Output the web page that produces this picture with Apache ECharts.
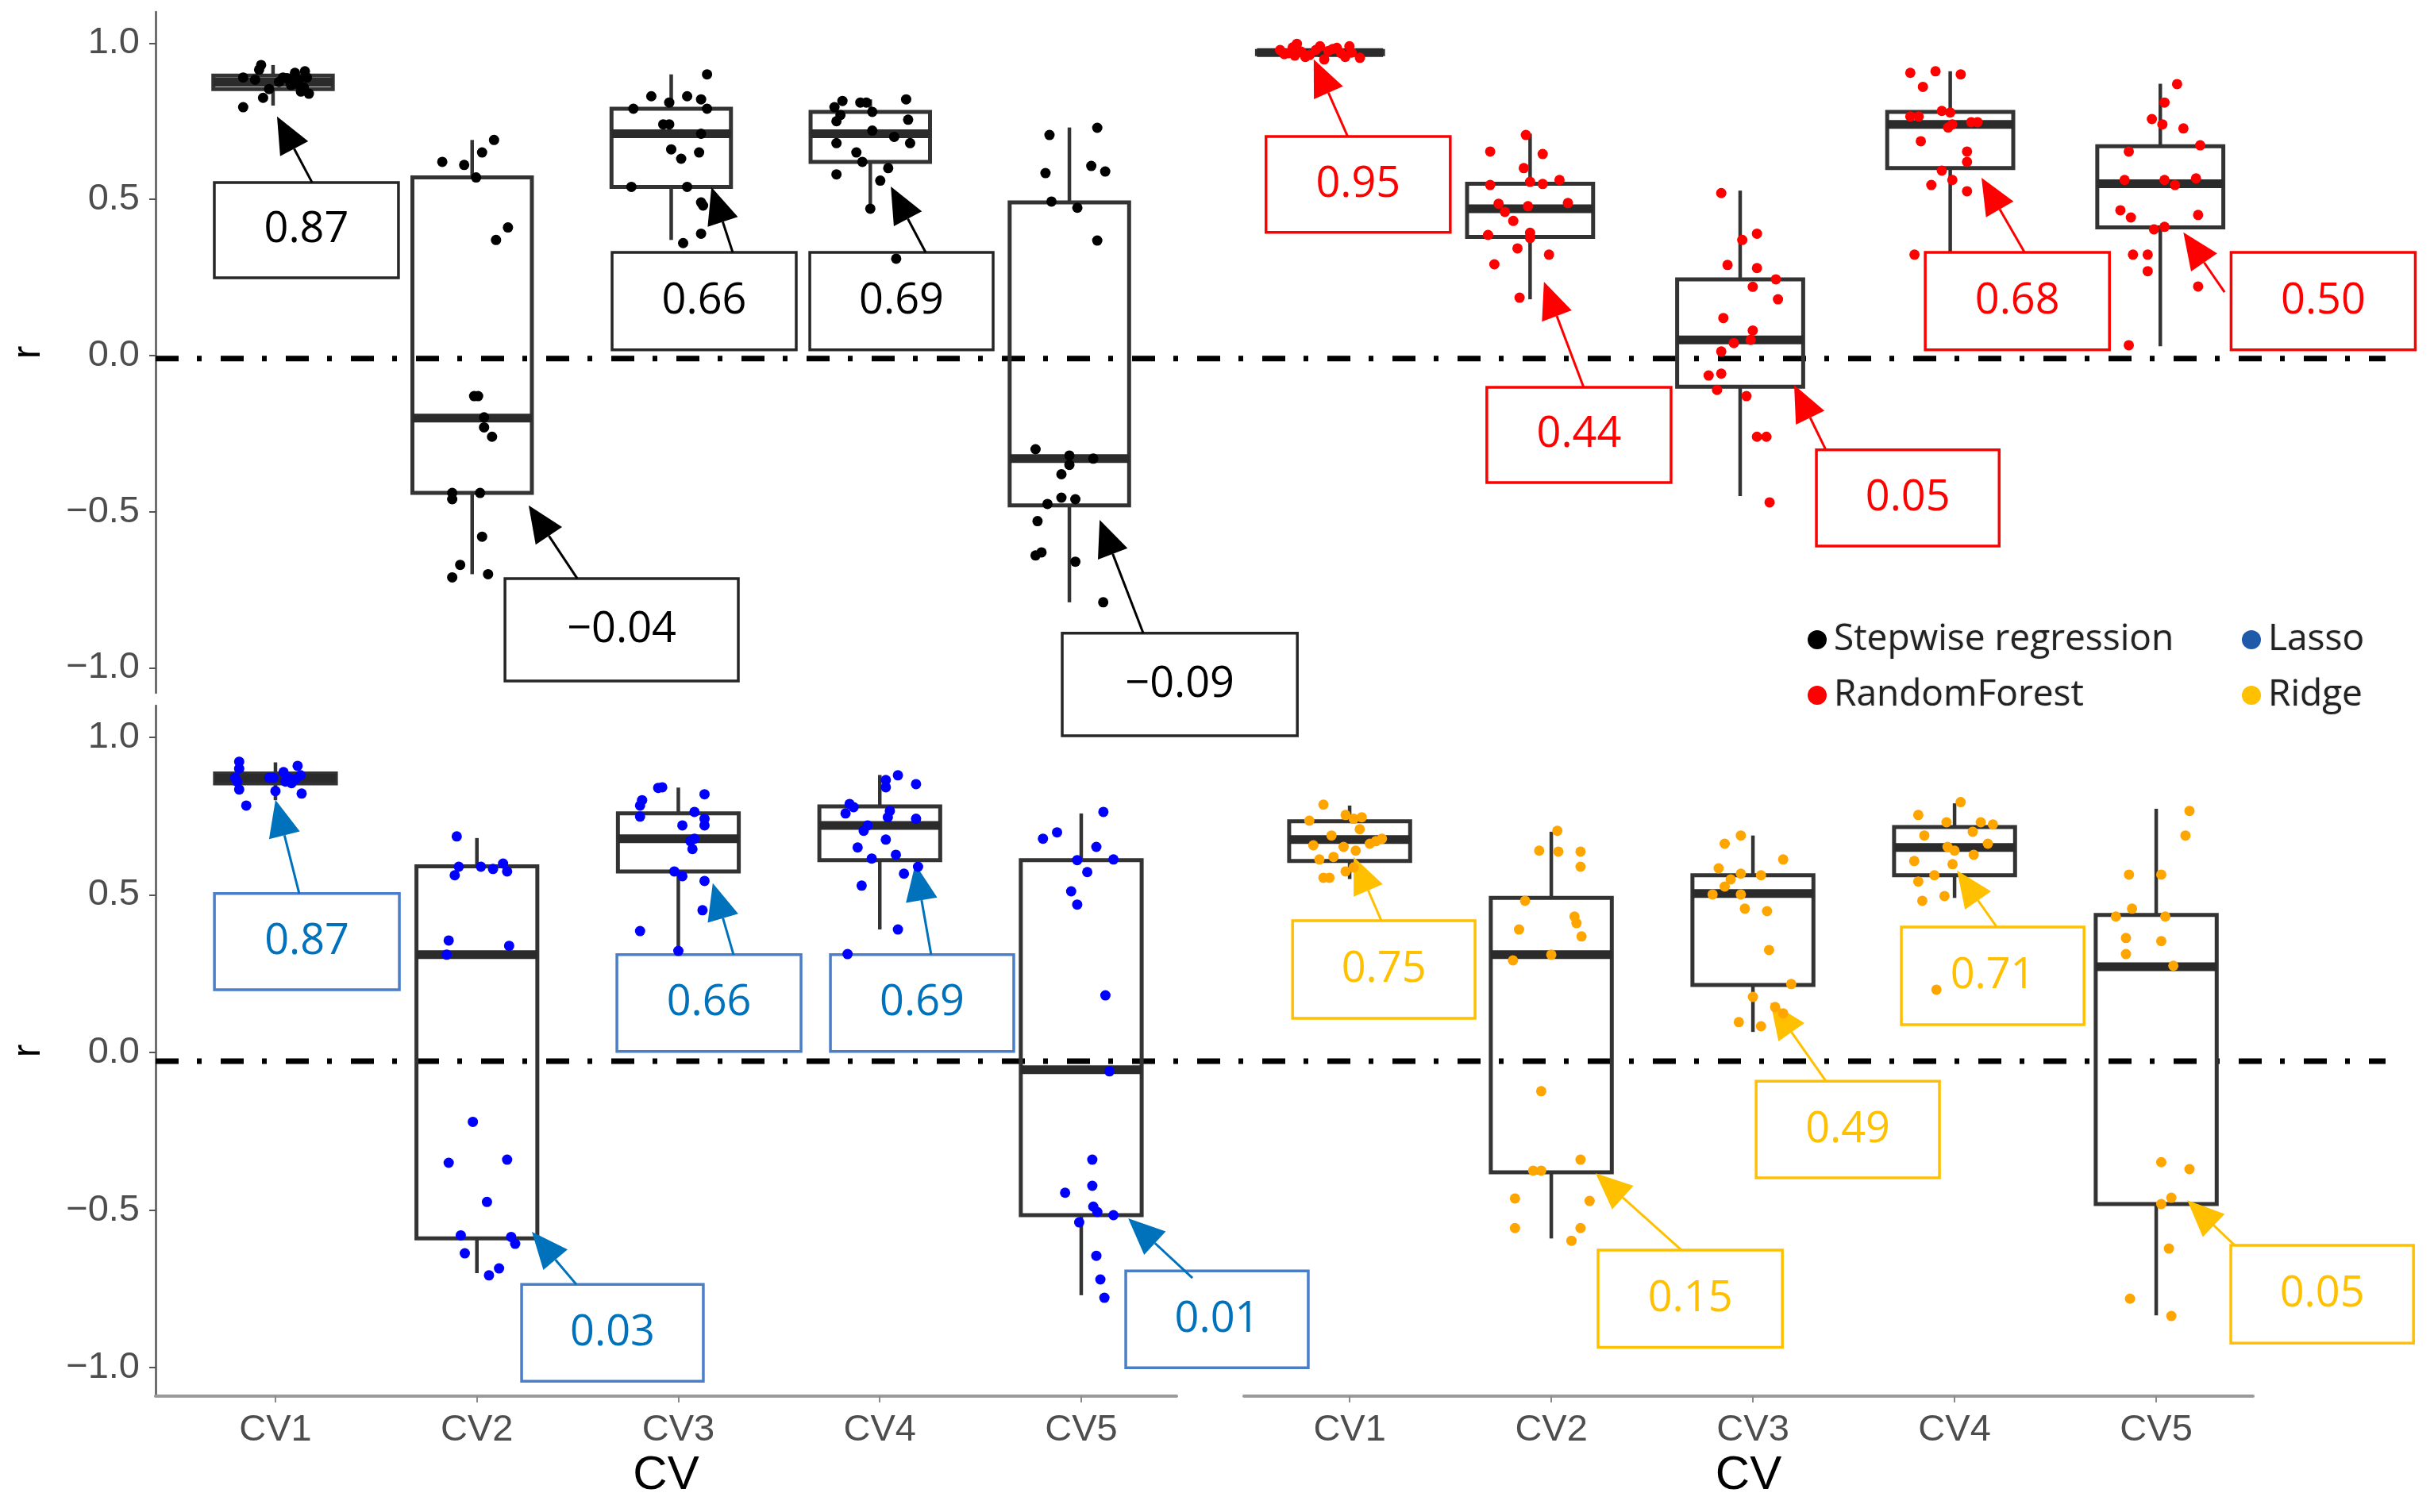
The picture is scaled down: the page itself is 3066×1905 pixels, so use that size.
<!DOCTYPE html>
<html>
<head>
<meta charset="utf-8">
<script src="https://cdn.jsdelivr.net/npm/echarts@6/dist/echarts.min.js"></script>
<style>html,body{margin:0;padding:0;background:#fff}#c{width:3066px;height:1905px}</style>
</head>
<body>
<div id="c"></div>
<script>
// ---------------- DATA ----------------
const categories = ['CV1', 'CV2', 'CV3', 'CV4', 'CV5'];
const yTicks = [-1, -0.5, 0, 0.5, 1];
const refLineY = [-0.01, -0.028];   // dash-dot reference line (top panels, bottom panels)

// box statistics per CV: [min, Q1, median, Q3, max]
const stepwiseBox = [
  [0.80, 0.853, 0.875, 0.896, 0.93],
  [-0.70, -0.44, -0.20, 0.57, 0.69],
  [0.37, 0.54, 0.71, 0.79, 0.90],
  [0.47, 0.62, 0.71, 0.78, 0.82],
  [-0.79, -0.48, -0.33, 0.49, 0.73]
];
const rfBox = [
  [0.955, 0.965, 0.97, 0.975, 0.985],
  [0.18, 0.38, 0.47, 0.55, 0.71],
  [-0.45, -0.10, 0.05, 0.244, 0.528],
  [0.33, 0.60, 0.74, 0.78, 0.91],
  [0.03, 0.41, 0.55, 0.67, 0.87]
];
const lassoBox = [
  [0.80, 0.853, 0.87, 0.885, 0.92],
  [-0.70, -0.59, 0.31, 0.59, 0.68],
  [0.32, 0.574, 0.678, 0.758, 0.84],
  [0.39, 0.61, 0.72, 0.78, 0.88],
  [-0.77, -0.516, -0.055, 0.61, 0.758]
];
const ridgeBox = [
  [0.55, 0.607, 0.675, 0.733, 0.783],
  [-0.59, -0.38, 0.31, 0.49, 0.70],
  [0.065, 0.214, 0.504, 0.562, 0.688],
  [0.49, 0.562, 0.65, 0.715, 0.79],
  [-0.834, -0.481, 0.272, 0.436, 0.773]
];

// jittered points per CV: [horizontal jitter (category units), r]
const stepwisePts = [
  [[-0.15,0.89],[-0.06,0.93],[-0.07,0.915],[-0.05,0.825],[-0.15,0.795],[-0.02,0.853],[0.03,0.876],[0.05,0.89],[0.08,0.883],[0.11,0.905],[0.13,0.883],[0.155,0.858],[0.17,0.89],[0.18,0.838],[0.16,0.91],[0.09,0.866],[0.14,0.845],[0.07,0.888],[-0.09,0.883],[0.12,0.87]],
  [[-0.15,0.62],[-0.04,0.61],[0.02,0.57],[0.05,0.65],[0.11,0.69],[0.18,0.41],[0.12,0.37],[0.03,-0.13],[0.01,-0.13],[0.06,-0.198],[0.06,-0.23],[0.10,-0.26],[-0.10,-0.44],[-0.10,-0.46],[0.04,-0.44],[0.05,-0.58],[-0.06,-0.67],[-0.10,-0.71],[0.08,-0.70]],
  [[0.18,0.90],[-0.10,0.83],[0.08,0.83],[0.15,0.82],[-0.01,0.81],[-0.19,0.79],[0.18,0.79],[-0.04,0.74],[-0.01,0.74],[0.15,0.71],[0.0,0.66],[0.14,0.65],[0.05,0.63],[-0.20,0.54],[0.08,0.54],[0.15,0.49],[0.16,0.48],[0.15,0.39],[0.06,0.36]],
  [[-0.14,0.815],[-0.18,0.795],[-0.05,0.81],[-0.02,0.81],[0.18,0.82],[-0.15,0.77],[0.01,0.78],[-0.17,0.75],[0.19,0.755],[0.01,0.72],[-0.17,0.68],[0.12,0.70],[0.20,0.68],[-0.07,0.65],[-0.04,0.62],[0.09,0.60],[-0.17,0.58],[0.05,0.56],[0.0,0.47],[0.13,0.31]],
  [[-0.10,0.706],[0.14,0.729],[-0.12,0.584],[0.11,0.607],[0.18,0.589],[-0.09,0.493],[0.04,0.473],[0.14,0.368],[-0.17,-0.30],[0.0,-0.32],[0.0,-0.35],[0.12,-0.33],[-0.04,-0.38],[-0.11,-0.475],[-0.04,-0.455],[0.03,-0.46],[-0.16,-0.53],[-0.17,-0.64],[-0.14,-0.63],[0.03,-0.66],[0.17,-0.79]]
];
const rfPts = [
  [[-0.19,0.978],[-0.17,0.965],[-0.11,0.998],[-0.13,0.986],[-0.07,0.956],[-0.02,0.978],[0.02,0.948],[0.06,0.981],[0.10,0.968],[0.14,0.99],[0.19,0.953],[0.12,0.956],[-0.09,0.973],[-0.15,0.968],[-0.05,0.962],[0.04,0.975],[0.08,0.985],[-0.12,0.96],[0.15,0.97],[0.0,0.99]],
  [[-0.02,0.706],[-0.19,0.653],[0.06,0.645],[-0.03,0.60],[-0.19,0.546],[0.0,0.556],[0.06,0.549],[0.14,0.562],[-0.15,0.486],[-0.12,0.46],[-0.01,0.478],[0.18,0.488],[-0.08,0.431],[-0.20,0.386],[0.0,0.393],[0.0,0.376],[-0.06,0.343],[0.09,0.323],[-0.17,0.292],[-0.05,0.185]],
  [[-0.09,0.52],[0.08,0.39],[0.01,0.37],[-0.06,0.29],[0.08,0.28],[0.17,0.244],[0.06,0.22],[0.18,0.18],[-0.08,0.12],[0.06,0.08],[0.05,0.05],[-0.03,0.04],[-0.09,0.013],[-0.15,-0.064],[-0.09,-0.058],[-0.11,-0.11],[0.03,-0.13],[0.08,-0.26],[0.125,-0.26],[0.14,-0.47]],
  [[-0.19,0.905],[-0.07,0.91],[0.05,0.90],[-0.13,0.86],[-0.19,0.765],[-0.15,0.765],[-0.04,0.783],[0.0,0.778],[0.10,0.747],[0.13,0.747],[-0.01,0.73],[0.01,0.74],[-0.14,0.686],[0.08,0.653],[0.08,0.62],[-0.04,0.592],[0.01,0.562],[-0.09,0.546],[0.08,0.526],[-0.17,0.323]],
  [[0.08,0.869],[0.02,0.81],[-0.04,0.757],[0.01,0.74],[0.11,0.727],[0.19,0.673],[-0.15,0.653],[-0.17,0.562],[0.02,0.562],[0.17,0.567],[0.07,0.546],[-0.19,0.465],[-0.14,0.442],[0.18,0.45],[-0.03,0.404],[0.02,0.412],[-0.13,0.323],[-0.06,0.323],[-0.06,0.27],[0.18,0.221],[-0.15,0.033]]
];
const lassoPts = [
  [[-0.18,0.922],[-0.18,0.90],[-0.19,0.859],[-0.18,0.834],[-0.145,0.783],[-0.03,0.871],[0.0,0.829],[0.04,0.889],[0.08,0.854],[0.11,0.909],[0.125,0.879],[0.13,0.821],[0.065,0.871],[-0.01,0.871],[0.10,0.866],[0.05,0.859],[-0.2,0.871]],
  [[-0.10,0.685],[-0.09,0.589],[-0.11,0.562],[0.02,0.589],[0.08,0.582],[0.13,0.599],[0.15,0.574],[-0.14,0.355],[0.16,0.338],[-0.15,0.31],[-0.02,-0.22],[-0.14,-0.35],[0.15,-0.34],[0.05,-0.474],[-0.08,-0.58],[0.17,-0.585],[0.19,-0.607],[-0.06,-0.637],[0.06,-0.707],[0.11,-0.685]],
  [[-0.10,0.839],[-0.08,0.841],[-0.18,0.80],[-0.19,0.783],[-0.19,0.748],[0.13,0.819],[0.08,0.763],[0.13,0.741],[0.13,0.72],[0.02,0.72],[0.06,0.67],[0.07,0.645],[-0.02,0.574],[0.02,0.559],[0.13,0.544],[0.12,0.451],[-0.19,0.385],[0.0,0.322],[0.08,0.678]],
  [[0.09,0.879],[0.03,0.864],[0.03,0.841],[0.18,0.851],[-0.15,0.788],[-0.13,0.778],[-0.17,0.758],[0.05,0.766],[0.04,0.746],[0.18,0.741],[-0.06,0.72],[-0.08,0.703],[0.03,0.675],[-0.11,0.65],[0.08,0.627],[-0.04,0.615],[0.19,0.589],[0.12,0.567],[-0.09,0.529],[0.09,0.39],[-0.16,0.312]],
  [[0.11,0.763],[-0.19,0.678],[-0.12,0.698],[0.075,0.652],[-0.02,0.61],[0.16,0.612],[0.03,0.572],[-0.05,0.511],[-0.02,0.469],[0.12,0.181],[0.14,-0.06],[0.055,-0.34],[0.055,-0.423],[-0.08,-0.445],[0.06,-0.489],[0.08,-0.506],[0.16,-0.516],[-0.01,-0.539],[0.075,-0.645],[0.095,-0.72],[0.115,-0.778]]
];
const ridgePts = [
  [[-0.13,0.786],[-0.2,0.735],[-0.02,0.753],[0.02,0.741],[0.06,0.746],[0.05,0.708],[-0.09,0.688],[0.16,0.678],[-0.18,0.657],[-0.03,0.652],[0.1,0.662],[-0.15,0.612],[-0.08,0.62],[0.03,0.64],[-0.02,0.574],[-0.13,0.554],[-0.1,0.554],[0.13,0.67],[0.02,0.587]],
  [[0.03,0.703],[-0.06,0.64],[0.035,0.637],[0.145,0.637],[0.145,0.589],[-0.13,0.481],[-0.16,0.39],[0.115,0.431],[0.125,0.41],[0.15,0.368],[0.0,0.31],[-0.19,0.292],[-0.05,-0.123],[0.145,-0.34],[-0.09,-0.375],[-0.05,-0.375],[-0.18,-0.463],[0.19,-0.471],[-0.18,-0.557],[0.145,-0.557],[0.1,-0.597]],
  [[-0.06,0.688],[-0.14,0.662],[0.15,0.612],[-0.17,0.584],[-0.06,0.567],[0.04,0.562],[-0.11,0.549],[-0.14,0.526],[-0.2,0.501],[-0.06,0.501],[-0.04,0.456],[0.07,0.448],[0.08,0.325],[0.19,0.217],[0.0,0.176],[0.11,0.144],[0.15,0.124],[-0.07,0.096],[0.04,0.083]],
  [[0.03,0.794],[-0.18,0.753],[-0.04,0.73],[0.13,0.73],[0.19,0.723],[0.09,0.70],[-0.15,0.688],[0.165,0.662],[-0.035,0.652],[0.0,0.64],[0.095,0.627],[-0.2,0.607],[-0.01,0.597],[-0.1,0.562],[-0.18,0.542],[-0.16,0.481],[-0.05,0.496],[-0.09,0.199]],
  [[0.165,0.766],[0.145,0.688],[-0.135,0.564],[0.025,0.564],[-0.12,0.456],[-0.2,0.431],[0.045,0.431],[-0.15,0.363],[0.025,0.353],[-0.15,0.312],[0.085,0.275],[0.025,-0.348],[0.165,-0.37],[0.075,-0.461],[0.025,-0.481],[0.063,-0.622],[-0.13,-0.781],[0.075,-0.836]]
];

// annotation texts per CV
const stepwiseLabels = ['0.87', '\u22120.04', '0.66', '0.69', '\u22120.09'];
const rfLabels = ['0.95', '0.44', '0.05', '0.68', '0.50'];
const lassoLabels = ['0.87', '0.03', '0.66', '0.69', '0.01'];
const ridgeLabels = ['0.75', '0.15', '0.49', '0.71', '0.05'];

// ---------------- LAYOUT (annotation placement in axis units) ----------------
// [boxLeft, boxTop, boxRight, boxBottom, arrowFromX, arrowFromY, arrowTipX, arrowTipY]
const stepwiseAnnoPos = [
  [0.705,0.554,1.630,0.249, 1.196,0.554, 1.020,0.765],
  [2.165,-0.714,3.337,-1.042, 2.528,-0.714, 2.284,-0.480],
  [2.703,0.330,3.628,0.018, 3.309,0.330, 3.202,0.539],
  [3.696,0.330,4.617,0.018, 4.278,0.330, 4.103,0.541],
  [4.964,-0.889,6.145,-1.217, 5.371,-0.889, 5.152,-0.526]
];
const rfAnnoPos = [
  [0.743,0.701,1.620,0.394, 1.132,0.701, 0.970,0.948],
  [1.794,-0.102,2.671,-0.407, 2.255,-0.102, 2.066,0.236],
  [3.363,-0.302,4.233,-0.610, 3.408,-0.302, 3.257,-0.094],
  [3.881,0.330,4.758,0.018, 4.354,0.330, 4.149,0.569],
  [5.337,0.330,6.214,0.018, 5.306,0.203, 5.110,0.394]
];
const lassoAnnoPos = [
  [0.697,0.504,1.615,0.199, 1.118,0.504, 1.0,0.801],
  [2.222,-0.736,3.124,-1.043, 2.494,-0.736, 2.273,-0.569],
  [2.695,0.310,3.609,0.003, 3.274,0.310, 3.171,0.537],
  [3.755,0.310,4.665,0.003, 4.255,0.310, 4.176,0.597],
  [5.221,-0.693,6.127,-1.0, 5.552,-0.715, 5.233,-0.526]
];
const ridgeAnnoPos = [
  [0.717,0.418,1.622,0.108, 1.157,0.418, 1.020,0.620],
  [2.232,-0.627,3.146,-0.935, 2.646,-0.627, 2.220,-0.383],
  [3.016,-0.091,3.925,-0.398, 3.362,-0.091, 3.087,0.159],
  [3.736,0.398,4.642,0.088, 4.209,0.398, 4.012,0.577],
  [5.370,-0.612,6.276,-0.922, 5.390,-0.612, 5.154,-0.469]
];

const panels = [
  {name:'Stepwise regression', box:stepwiseBox, pts:stepwisePts, labels:stepwiseLabels, pos:stepwiseAnnoPos, grid:0,
   dot:'#000000', border:'#262626', text:'#000000', arrow:'#000000'},
  {name:'RandomForest', box:rfBox, pts:rfPts, labels:rfLabels, pos:rfAnnoPos, grid:1,
   dot:'#FF0000', border:'#FF0000', text:'#FF0000', arrow:'#FF0000'},
  {name:'Lasso', box:lassoBox, pts:lassoPts, labels:lassoLabels, pos:lassoAnnoPos, grid:2,
   dot:'#0000FF', border:'#4A7EC9', text:'#0072BC', arrow:'#0072BC'},
  {name:'Ridge', box:ridgeBox, pts:ridgePts, labels:ridgeLabels, pos:ridgeAnnoPos, grid:3,
   dot:'#FFA500', border:'#FFC000', text:'#FFC000', arrow:'#FFC000'}
];

// ---------------- CHART ----------------
const chart = echarts.init(document.getElementById('c'), null, {renderer:'canvas', width:3066, height:1905});
const tickFmt = v => (v < 0 ? '\u2212' : '') + Math.abs(v).toFixed(1);
const catIdx = categories.map((c, i) => i + 1);

function boxRender(params, api) {
  const x = api.value(0);
  const w = api.size([0.6, 0])[0];
  const c = api.coord([x, api.value(3)]);
  const pMin = api.coord([x, api.value(1)]);
  const pQ1 = api.coord([x, api.value(2)]);
  const pQ3 = api.coord([x, api.value(4)]);
  const pMax = api.coord([x, api.value(5)]);
  const stroke = '#333333';
  return {type:'group', children:[
    {type:'line', shape:{x1:c[0], y1:pMax[1], x2:c[0], y2:pQ3[1]}, style:{stroke, lineWidth:4.5}},
    {type:'line', shape:{x1:c[0], y1:pQ1[1], x2:c[0], y2:pMin[1]}, style:{stroke, lineWidth:4.5}},
    {type:'rect', shape:{x:c[0]-w/2, y:pQ3[1], width:w, height:pQ1[1]-pQ3[1]}, style:{fill:'none', stroke, lineWidth:5}},
    {type:'line', shape:{x1:c[0]-w/2, y1:c[1], x2:c[0]+w/2, y2:c[1]}, style:{stroke:'#2b2b2b', lineWidth:11}}
  ]};
}

function annoRender(p) {
  return function(params, api) {
    const a = api.coord([api.value(0), api.value(1)]);
    const b = api.coord([api.value(2), api.value(3)]);
    const f = api.coord([api.value(4), api.value(5)]);
    const t = api.coord([api.value(6), api.value(7)]);
    const dx = t[0]-f[0], dy = t[1]-f[1];
    const L = Math.hypot(dx, dy) || 1;
    const ux = dx/L, uy = dy/L;
    const hl = 46, hw = 20;
    const bx = t[0]-ux*hl, by = t[1]-uy*hl;
    const px = -uy, py = ux;
    return {type:'group', children:[
      {type:'rect', shape:{x:a[0], y:a[1], width:b[0]-a[0], height:b[1]-a[1]},
       style:{fill:'#ffffff', stroke:p.border, lineWidth:3.5}},
      {type:'text', style:{text:p.labels[params.dataIndex], x:(a[0]+b[0])/2, y:(a[1]+b[1])/2,
        align:'center', verticalAlign:'middle', textAlign:'center', textVerticalAlign:'middle',
        fill:p.text, fontSize:54, fontFamily:'"Open Sans", "Noto Sans", sans-serif'}},
      {type:'line', shape:{x1:f[0], y1:f[1], x2:bx, y2:by}, style:{stroke:p.arrow, lineWidth:3}},
      {type:'polygon', shape:{points:[[t[0], t[1]], [bx+px*hw, by+py*hw], [bx-px*hw, by-py*hw]]},
       style:{fill:p.arrow}}
    ]};
  };
}

const series = [];
// dash-dot reference lines across both panels of each row
[4, 5].forEach((g, k) => {
  series.push({type:'line', xAxisIndex:g, yAxisIndex:g, silent:true, symbol:'none', z:1,
    data:[[0, refLineY[k]], [1, refLineY[k]]],
    lineStyle:{color:'#000', width:7, type:[29, 23, 6, 24], cap:'butt'}});
});
panels.forEach(p => {
  series.push({type:'custom', name:p.name + ' box', xAxisIndex:p.grid, yAxisIndex:p.grid, silent:true, z:2,
    renderItem:boxRender,
    data:p.box.map((s, i) => [catIdx[i]].concat(s))});
  series.push({type:'custom', name:p.name + ' note', xAxisIndex:p.grid, yAxisIndex:p.grid, silent:true, z:3,
    renderItem:annoRender(p), clip:false,
    data:p.pos.map(r => r.slice())});
  const pts = [];
  p.pts.forEach((arr, i) => arr.forEach(d => pts.push([catIdx[i] + d[0], d[1]])));
  series.push({type:'scatter', name:p.name, xAxisIndex:p.grid, yAxisIndex:p.grid, silent:true, z:5,
    symbol:'circle', symbolSize:13, itemStyle:{color:p.dot, opacity:1}, data:pts});
});

const labelFont = {fontSize:47, color:'#4d4d4d', fontFamily:'"Liberation Sans", Arial, sans-serif'};
function yAxisVisible(g, min) {
  return {gridIndex:g, type:'value', min:min, max:1.1,
    axisLine:{show:true, onZero:false, lineStyle:{color:'#555', width:2.5}},
    axisTick:{show:true, customValues:yTicks, length:8, lineStyle:{color:'#555', width:2}},
    axisLabel:Object.assign({customValues:yTicks, formatter:tickFmt, margin:20}, labelFont),
    splitLine:{show:false},
    name:'r', nameLocation:'middle', nameRotate:90, nameGap:135,
    nameTextStyle:{fontSize:50, color:'#000', fontFamily:'"Liberation Sans", Arial, sans-serif'}};
}
function yAxisHidden(g, min) {
  return {gridIndex:g, type:'value', min:min, max:1.1, show:false, axisLine:{onZero:false}, splitLine:{show:false}};
}
function xAxisVisible(g, min, max) {
  return {gridIndex:g, type:'value', min:min, max:max,
    axisLine:{show:true, onZero:false, lineStyle:{color:'#9a9a9a', width:4}},
    axisTick:{show:true, customValues:catIdx, length:8, lineStyle:{color:'#8a8a8a', width:2}},
    axisLabel:Object.assign({customValues:catIdx, formatter:v => categories[Math.round(v) - 1], margin:20}, labelFont),
    splitLine:{show:false},
    name:'CV', nameLocation:'middle', nameGap:70,
    nameTextStyle:{fontSize:60, color:'#000', fontFamily:'"Liberation Sans", Arial, sans-serif'}};
}
function xAxisHidden(g, min, max) {
  return {gridIndex:g, type:'value', min:min, max:max, show:false, axisLine:{onZero:false}, splitLine:{show:false}};
}

const legendText = {fontSize:46, color:'#222', fontFamily:'"Open Sans", "Noto Sans", sans-serif',
  padding:[0, 0, 0, 4], textShadowColor:'rgba(0,0,0,0.25)', textShadowBlur:2};

chart.setOption({
  animation:false,
  backgroundColor:'#ffffff',
  grid:[
    {left:196, top:15, width:1294, height:858, outerBoundsMode:'none'},
    {left:1504, top:15, width:1376, height:858, outerBoundsMode:'none'},
    {left:196, top:889, width:1286, height:870, outerBoundsMode:'none'},
    {left:1567, top:889, width:1271, height:870, outerBoundsMode:'none'},
    {left:196, top:15, width:2809, height:858, outerBoundsMode:'none'},
    {left:196, top:889, width:2809, height:870, outerBoundsMode:'none'}
  ],
  xAxis:[
    xAxisHidden(0, 0.41, 5.57),
    xAxisHidden(1, 0.4, 5.6),
    xAxisVisible(2, 0.405, 5.473),
    xAxisVisible(3, 0.476, 5.48),
    xAxisHidden(4, 0, 1),
    xAxisHidden(5, 0, 1)
  ],
  yAxis:[
    yAxisVisible(0, -1.08),
    yAxisHidden(1, -1.08),
    yAxisVisible(2, -1.09),
    yAxisHidden(3, -1.09),
    yAxisHidden(4, -1.08),
    yAxisHidden(5, -1.09)
  ],
  legend:[
    {data:[{name:'Stepwise regression'}, {name:'RandomForest'}], orient:'vertical', left:2272, top:778,
     icon:'circle', itemWidth:24, itemHeight:24, itemGap:24, selectedMode:false, textStyle:legendText},
    {data:[{name:'Lasso', itemStyle:{color:'#1F5AA8'}}, {name:'Ridge', itemStyle:{color:'#FFC000'}}],
     orient:'vertical', left:2819, top:778,
     icon:'circle', itemWidth:24, itemHeight:24, itemGap:24, selectedMode:false, textStyle:legendText}
  ],
  series:series
});
</script>
</body>
</html>
